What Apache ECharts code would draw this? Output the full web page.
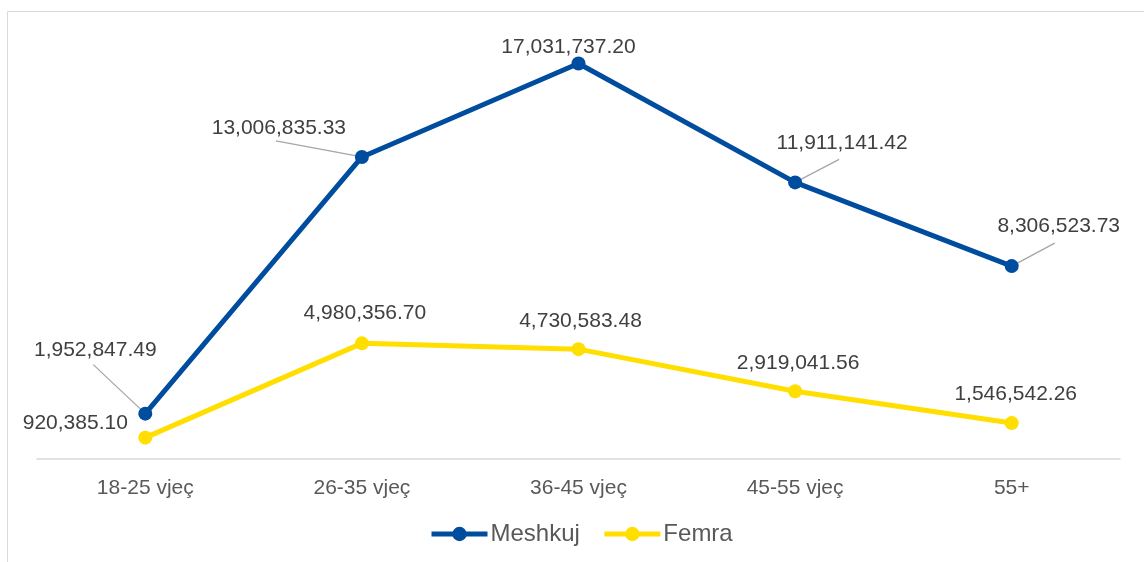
<!DOCTYPE html>
<html>
<head>
<meta charset="utf-8">
<script src="https://cdn.jsdelivr.net/npm/echarts@6/dist/echarts.min.js"></script>
<style>
    html, body { margin: 0; padding: 0; background: #fff; }
    #chart { width: 1144px; height: 562px; }
</style>
</head>
<body>
<div id="chart"></div>
<script>
var categories = ['18-25 vjeç', '26-35 vjeç', '36-45 vjeç', '45-55 vjeç', '55+'];
var meshkuj = [1952847.49, 13006835.33, 17031737.20, 11911141.42, 8306523.73];
var femra = [920385.10, 4980356.70, 4730583.48, 2919041.56, 1546542.26];

// label shifts (callout positions), [dx, dy]
var meshkujShift = [[-50, -41], [-83, -6], [-10, 6], [47, -17], [47, -17]];
var femraShift = [[-70, 8], [3, -8], [2, -5], [3, -6], [4, -6]];
// leader line end, relative to the point (null = no leader)
var meshkujLeader = [[-52, -49], [-86, -16], null, [44, -23], [43, -23]];

function fmt(v) {
    return v.toLocaleString('en-US', { minimumFractionDigits: 2, maximumFractionDigits: 2 });
}

var myChart = echarts.init(document.getElementById('chart'));
var font = 'Liberation Sans, Arial, sans-serif';

var option = {
    animation: false,
    textStyle: { fontFamily: font },
    graphic: [{
        type: 'rect',
        silent: true,
        shape: { x: 7.5, y: 11.5, width: 1200, height: 600 },
        style: { fill: 'none', stroke: '#d9d9d9', lineWidth: 1 }
    }],
    grid: { left: 37, right: 24, top: 41, bottom: 103 },
    legend: {
        bottom: 11,
        left: 424,
        itemWidth: 56,
        itemHeight: 18,
        itemGap: 22,
        lineStyle: { width: 5 },
        textStyle: { fontSize: 24, color: '#595959', fontFamily: font, padding: [0, 0, 0, -2] },
        data: ['Meshkuj', 'Femra']
    },
    xAxis: {
        type: 'category',
        data: categories,
        axisLine: { lineStyle: { color: '#d9d9d9', width: 1.5 } },
        axisTick: { show: false },
        axisLabel: { fontSize: 21, color: '#595959', margin: 19, fontFamily: font }
    },
    yAxis: {
        type: 'value',
        min: 0,
        max: 18000000,
        show: false,
        splitLine: { show: false }
    },
    series: [
        {
            name: 'leaders',
            type: 'custom',
            silent: true,
            data: meshkuj.map(function (v, i) { return [i, v]; }),
            renderItem: function (params, api) {
                var end = meshkujLeader[params.dataIndex];
                if (!end) return null;
                var p = api.coord([api.value(0), api.value(1)]);
                return {
                    type: 'line',
                    shape: { x1: p[0], y1: p[1], x2: p[0] + end[0], y2: p[1] + end[1] },
                    style: { stroke: '#a6a6a6', lineWidth: 1.3 }
                };
            },
            z: 1
        },
        {
            name: 'Meshkuj',
            type: 'line',
            data: meshkuj,
            symbol: 'circle',
            symbolSize: 14,
            itemStyle: { color: '#004c9e' },
            lineStyle: { color: '#004c9e', width: 5 },
            label: {
                show: true,
                position: 'top',
                fontSize: 21,
                color: '#404040',
                fontFamily: font,
                formatter: function (p) { return fmt(p.value); }
            },
            labelLayout: function (p) {
                return { dx: meshkujShift[p.dataIndex][0], dy: meshkujShift[p.dataIndex][1] };
            },
            z: 3
        },
        {
            name: 'Femra',
            type: 'line',
            data: femra,
            symbol: 'circle',
            symbolSize: 14,
            itemStyle: { color: '#ffde00' },
            lineStyle: { color: '#ffde00', width: 5 },
            label: {
                show: true,
                position: 'top',
                fontSize: 21,
                color: '#404040',
                fontFamily: font,
                formatter: function (p) { return fmt(p.value); }
            },
            labelLayout: function (p) {
                return { dx: femraShift[p.dataIndex][0], dy: femraShift[p.dataIndex][1] };
            },
            z: 2
        }
    ]
};

myChart.setOption(option);
</script>
</body>
</html>
